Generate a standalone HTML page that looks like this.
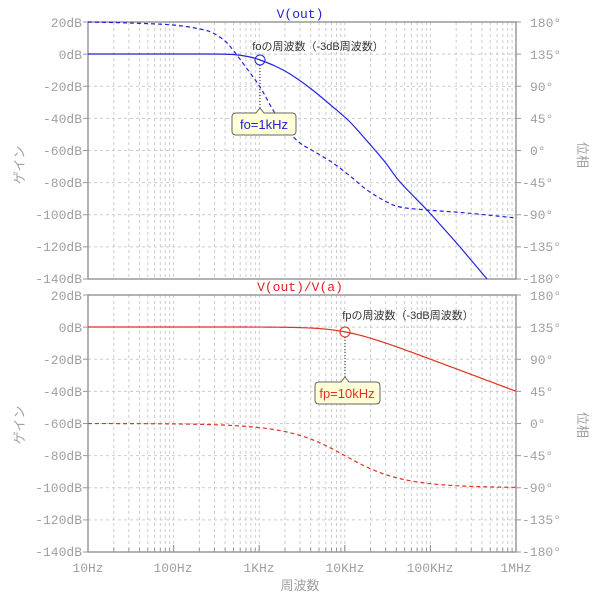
<!DOCTYPE html>
<html><head><meta charset="utf-8"><style>
body{margin:0;background:#fff}
svg text{font-family:"Liberation Mono","Noto Sans CJK JP",monospace;}
.t{font-size:13px;fill:#a0a0a0}
.j{font-family:"Liberation Sans","Noto Sans CJK JP",sans-serif!important}
</style></head><body>
<svg id="s" width="600" height="600" xmlns="http://www.w3.org/2000/svg">
<g id="grid"></g>
<rect x="88" y="22" width="428" height="257" fill="none" stroke="#999" stroke-width="1.5"/>
<rect x="88" y="295" width="428" height="257" fill="none" stroke="#999" stroke-width="1.5"/>
<g id="ticks" stroke="#999" stroke-width="1"></g>
<g class="t" text-anchor="end">
<text x="82" y="27">20dB</text><text x="82" y="59">0dB</text><text x="82" y="91">-20dB</text><text x="82" y="123">-40dB</text><text x="82" y="155">-60dB</text><text x="82" y="187">-80dB</text><text x="82" y="219">-100dB</text><text x="82" y="251">-120dB</text><text x="82" y="283">-140dB</text>
<text x="82" y="300">20dB</text><text x="82" y="332">0dB</text><text x="82" y="364">-20dB</text><text x="82" y="396">-40dB</text><text x="82" y="428">-60dB</text><text x="82" y="460">-80dB</text><text x="82" y="492">-100dB</text><text x="82" y="524">-120dB</text><text x="82" y="556">-140dB</text>
</g>
<g class="t">
<text x="530" y="27">180°</text><text x="530" y="59">135°</text><text x="530" y="91">90°</text><text x="530" y="123">45°</text><text x="530" y="155">0°</text><text x="522" y="187">-45°</text><text x="522" y="219">-90°</text><text x="522" y="251">-135°</text><text x="522" y="283">-180°</text>
<text x="530" y="300">180°</text><text x="530" y="332">135°</text><text x="530" y="364">90°</text><text x="530" y="396">45°</text><text x="530" y="428">0°</text><text x="522" y="460">-45°</text><text x="522" y="492">-90°</text><text x="522" y="524">-135°</text><text x="522" y="556">-180°</text>
</g>
<g class="t" text-anchor="middle">
<text x="88" y="572">10Hz</text><text x="173" y="572">100Hz</text><text x="259" y="572">1KHz</text><text x="345" y="572">10KHz</text><text x="430" y="572">100KHz</text><text x="516" y="572">1MHz</text>
<text x="300" y="590" class="t j">周波数</text>
</g>
<text class="t j" transform="translate(24,165) rotate(-90)" text-anchor="middle" font-size="14">ゲイン</text>
<text class="t j" transform="translate(24,425) rotate(-90)" text-anchor="middle" font-size="14">ゲイン</text>
<text class="t j" transform="translate(578,155) rotate(90)" text-anchor="middle" font-size="14">位相</text>
<text class="t j" transform="translate(578,425) rotate(90)" text-anchor="middle" font-size="14">位相</text>
<text x="300" y="18" text-anchor="middle" font-size="13" fill="#2222dd">V(out)</text>
<text x="300" y="291" text-anchor="middle" font-size="13" fill="#dd2222">V(out)/V(a)</text>
<path id="bs" fill="none" stroke="#2222dd" stroke-width="1.2" data-p="88,54 200,54 233,54.5 250,57 260,60 275,66 290,74 310,88 333,107 350,122 367,141 385,162 400,182 427,210 445,230 460,247 487,279"/>
<path id="bd" fill="none" stroke="#2222dd" stroke-width="1.2" stroke-dasharray="4,3" data-p="88,22 130,23 173,25 200,29 213,33 225,41 233,50 245,66 260,87 273,110 285,128 300,143 315,152 333,163 350,176 367,190 385,201 400,207 427,210 467,213 516,218"/>
<polyline id="rs" fill="none" stroke="#dd3322" stroke-width="1.2"/>
<polyline id="rd" fill="none" stroke="#dd3322" stroke-width="1.2" stroke-dasharray="4,3"/>
<circle cx="260" cy="60" r="5" fill="none" stroke="#2222dd"/>
<line x1="260" y1="65" x2="260" y2="108" stroke="#222" stroke-dasharray="1,2"/>
<path d="M236,113 H256 L260,108 L264,113 H292 Q296,113 296,117 V131 Q296,135 292,135 H236 Q232,135 232,131 V117 Q232,113 236,113Z" fill="#ffffd8" stroke="#666"/>
<text x="264" y="129" text-anchor="middle" font-size="13" fill="#2222dd" class="j">fo=1kHz</text>
<text x="318" y="50" text-anchor="middle" font-size="11" fill="#333" class="j">foの周波数（-3dB周波数）</text>
<circle cx="345" cy="332" r="5" fill="none" stroke="#dd3322"/>
<line x1="345" y1="337" x2="345" y2="377" stroke="#222" stroke-dasharray="1,2"/>
<path d="M319,382 H341 L345,377 L349,382 H376 Q380,382 380,386 V400 Q380,404 376,404 H319 Q315,404 315,400 V386 Q315,382 319,382Z" fill="#ffffd8" stroke="#666"/>
<text x="347" y="398" text-anchor="middle" font-size="13" fill="#dd3322" class="j">fp=10kHz</text>
<text x="408" y="319" text-anchor="middle" font-size="11" fill="#333" class="j">fpの周波数（-3dB周波数）</text>
</svg>
<script>
var NS="http://www.w3.org/2000/svg",g=document.getElementById("grid"),tk=document.getElementById("ticks");
function L(p,x1,y1,x2,y2,d){var l=document.createElementNS(NS,"line");l.setAttribute("x1",x1);l.setAttribute("y1",y1);l.setAttribute("x2",x2);l.setAttribute("y2",y2);if(d){l.setAttribute("stroke","#ccc");l.setAttribute("stroke-dasharray","3,3");}p.appendChild(l);}
var X0=88,D=85.6;
[[22,279],[295,552]].forEach(function(r){
for(var k=1;k<8;k++){var y=r[0]+k*32.125;L(g,88,y,516,y,1);L(tk,83,y,88,y);L(tk,516,y,521,y);}
L(tk,83,r[0],88,r[0]);L(tk,83,r[1],88,r[1]);L(tk,516,r[0],521,r[0]);L(tk,516,r[1],521,r[1]);
for(var d=0;d<5;d++)for(var m=1;m<=10;m++){var x=X0+D*(d+Math.log10(m));if(m>1&&m<10)L(g,x,r[0],x,r[1],1);else if(m==1&&d>0)L(g,x,r[0],x,r[1],1);
if(r[0]==295){L(tk,x,552,x,m==1||m==10?545:548);}}
});
["bs","bd"].forEach(function(id){var e=document.getElementById(id);var P=e.getAttribute("data-p").trim().split(" ").map(function(s){return s.split(",").map(Number);});
var d="M"+P[0];for(var i=0;i<P.length-1;i++){var p0=P[i-1]||P[i],p1=P[i],p2=P[i+1],p3=P[i+2]||p2;
d+=" C"+(p1[0]+(p2[0]-p0[0])/6)+","+(p1[1]+(p2[1]-p0[1])/6)+" "+(p2[0]-(p3[0]-p1[0])/6)+","+(p2[1]-(p3[1]-p1[1])/6)+" "+p2;}
e.setAttribute("d",d);});
var s="",p="";for(var i=0;i<=200;i++){var x=X0+i*428/200,f=Math.pow(10,1+i*5/200),w=f/1e4;
var db=-10*Math.log10(1+w*w),ph=-Math.atan(w)*180/Math.PI;
s+=x+","+(327-db*32.125/20)+" ";p+=x+","+(423.5-ph*32.125/45)+" ";}
document.getElementById("rs").setAttribute("points",s);document.getElementById("rd").setAttribute("points",p);
</script>
</body></html>
